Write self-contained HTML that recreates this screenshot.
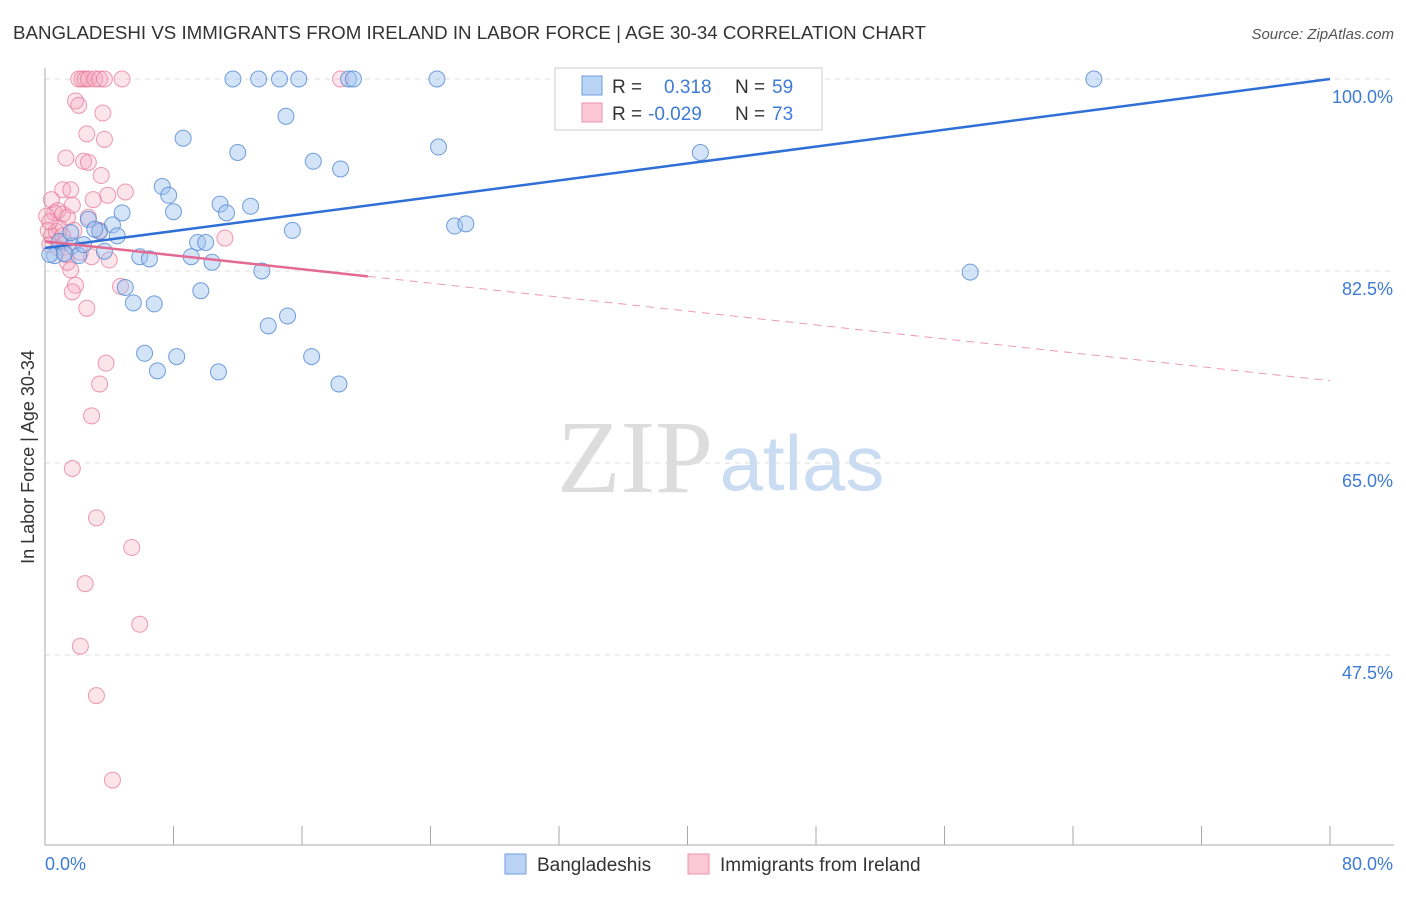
<!DOCTYPE html>
<html><head><meta charset="utf-8"><style>
body{margin:0;background:#fff;font-family:"Liberation Sans",sans-serif;}
</style></head><body>
<svg id="chart" width="1406" height="892" xmlns="http://www.w3.org/2000/svg" font-family="Liberation Sans, sans-serif">
<text x="13" y="39" font-size="18" fill="#333" textLength="913" lengthAdjust="spacingAndGlyphs">BANGLADESHI VS IMMIGRANTS FROM IRELAND IN LABOR FORCE | AGE 30-34 CORRELATION CHART</text>
<text x="1394" y="39" font-size="15" fill="#555" text-anchor="end" font-style="italic">Source: ZipAtlas.com</text>
<text transform="translate(34,457) rotate(-90)" font-size="18" fill="#333" text-anchor="middle">In Labor Force | Age 30-34</text>
<g><text x="635" y="492" font-size="104" fill="#ddd" font-family="Liberation Serif, serif" text-anchor="middle">ZIP</text><text x="802" y="490" font-size="78" fill="#c9dcf2" text-anchor="middle">atlas</text></g>
<g id="grid"></g><g id="axes"></g><g id="pts"></g><g id="lines"></g>
<g>
<rect x="555" y="68" width="267" height="62" fill="#fff" stroke="#ccc"/>
<rect x="582" y="76" width="20" height="19" fill="#b9d3f5" stroke="#6f9ee0"/>
<text x="612" y="93" font-size="19" fill="#333">R =</text><text x="664" y="93" font-size="19" fill="#3d7bd4">0.318</text>
<text x="735" y="93" font-size="19" fill="#333">N =</text><text x="772" y="93" font-size="19" fill="#3d7bd4">59</text>
<rect x="582" y="103" width="20" height="19" fill="#fac8d6" stroke="#ec90ac"/>
<text x="612" y="120" font-size="19" fill="#333">R =</text><text x="648" y="120" font-size="19" fill="#3d7bd4">-0.029</text>
<text x="735" y="120" font-size="19" fill="#333">N =</text><text x="772" y="120" font-size="19" fill="#3d7bd4">73</text>
</g>
<g>
<rect x="505" y="854" width="21" height="20" fill="#b9d3f5" stroke="#6f9ee0"/>
<text x="537" y="871" font-size="19" fill="#333">Bangladeshis</text>
<rect x="688" y="854" width="21" height="20" fill="#fac8d6" stroke="#ec90ac"/>
<text x="720" y="871" font-size="19" fill="#333">Immigrants from Ireland</text>
</g>
</svg>
<script>
const yTicks=[100,82.5,65,47.5];
const yTickLabels=["100.0%","82.5%","65.0%","47.5%"];
const xEndLabels=["0.0%","80.0%"];
const blueX=[11.7,13.3,14.6,15.8,18.9,19.2,24.4,65.3,15.0,8.6,12.0,24.5,16.7,18.4,40.8,7.3,7.7,8.0,10.9,12.8,11.3,4.8,2.7,15.4,25.5,26.2,3.4,4.2,4.5,9.5,10.0,1.7,0.9,0.6,3.7,5.9,6.5,9.1,10.4,13.5,57.6,5.0,5.5,6.8,9.7,15.1,13.9,6.2,8.2,16.6,7.0,10.8,18.3,2.1,0.3,1.6,3.1,2.4,1.2];
const blueY=[100,100,100,100,100,100,100,100,96.6,94.6,93.3,93.8,92.5,91.8,93.3,90.2,89.4,87.9,88.6,88.4,87.8,87.8,87.2,86.2,86.6,86.8,86.1,86.7,85.7,85.1,85.1,84.8,85.2,83.9,84.3,83.8,83.6,83.8,83.3,82.5,82.4,81.0,79.6,79.5,80.7,78.4,77.5,75.0,74.7,74.7,73.4,73.3,72.2,83.9,84.0,86.0,86.3,84.9,84.1];
const pinkX=[2.1,2.3,2.5,2.7,3.1,3.4,3.7,4.8,18.4,1.9,2.1,3.6,2.6,3.7,1.3,2.4,2.7,3.5,1.1,1.6,5.0,3.9,3.0,0.4,0.6,0.8,0.1,1.1,1.4,2.7,1.7,0.9,1.8,3.4,0.4,1.2,0.3,0.8,1.3,2.2,2.9,4.0,11.2,1.4,1.6,1.9,1.7,4.7,2.6,3.8,3.4,2.9,1.7,3.2,5.4,2.5,5.9,2.2,3.2,4.2,0.2,0.7,1.1,0.3];
const pinkY=[100,100,100,100,100,100,100,100,100,98.0,97.6,96.9,95.0,94.5,92.8,92.5,92.4,91.2,89.9,89.9,89.7,89.4,89.0,89.0,87.8,88.0,87.5,87.7,87.4,87.4,88.5,86.4,86.2,86.2,85.7,85.1,84.9,84.6,84.0,84.2,83.8,83.5,85.5,83.3,82.6,81.2,80.6,81.1,79.1,74.1,72.2,69.3,64.5,60.0,57.3,54.0,50.3,48.3,43.8,36.1,86.2,86.1,85.7,87.0];
const blueTrend=[84.6,100];
const pinkTrend=[85.2,72.5];
const pinkSolidEnd=20.1;
const NS="http://www.w3.org/2000/svg";
const X=v=>45+v/80*1285;
const Y=v=>79+(100-v)/17.5*192;
function mk(tag,attrs,parent){const e=document.createElementNS(NS,tag);for(const k in attrs)e.setAttribute(k,attrs[k]);document.getElementById(parent).appendChild(e);return e;}
yTicks.forEach((t,i)=>{
  const g=mk('line',{x1:45,x2:1394,y1:Y(t),y2:Y(t),stroke:'#ddd','stroke-dasharray':'5,5'},'grid');
  
  
  const l=mk('text',{x:1393,y:Y(t)+24,'font-size':18,fill:'#3d7bd4','text-anchor':'end'},'axes');
  l.textContent=yTickLabels[i];
  
  
});
const ax=mk('line',{x1:45,x2:45,y1:68,y2:845,stroke:'#aaa'},'axes');


const bx=mk('line',{x1:45,x2:1394,y1:845,y2:845,stroke:'#aaa'},'axes');


for(let i=1;i<=10;i++){
  const t=mk('line',{x1:X(i*8),x2:X(i*8),y1:826,y2:845,stroke:'#aaa'},'axes');
  
  
}
const xl0=mk('text',{x:45,y:870,'font-size':18,fill:'#3d7bd4'},'axes');xl0.textContent=xEndLabels[0];


const xl1=mk('text',{x:1393,y:870,'font-size':18,fill:'#3d7bd4','text-anchor':'end'},'axes');xl1.textContent=xEndLabels[1];


pinkX.forEach((x,i)=>{
  const c=mk('circle',{cx:X(x),cy:Y(pinkY[i]),r:8,fill:'rgba(245,165,188,0.3)',stroke:'rgba(232,120,155,0.75)','stroke-width':1},'pts');
  
  
});
blueX.forEach((x,i)=>{
  const c=mk('circle',{cx:X(x),cy:Y(blueY[i]),r:8,fill:'rgba(160,195,240,0.45)',stroke:'rgba(80,135,210,0.8)','stroke-width':1},'pts');
  
  
});
const bl=mk('line',{x1:X(0),y1:Y(blueTrend[0]),x2:X(80),y2:Y(blueTrend[1]),stroke:'#2f6fd6','stroke-width':2.5},'lines');


const pAt=x=>pinkTrend[0]+(pinkTrend[1]-pinkTrend[0])*x/80;
const pl=mk('line',{x1:X(0),y1:Y(pinkTrend[0]),x2:X(pinkSolidEnd),y2:Y(pAt(pinkSolidEnd)),stroke:'#e26a93','stroke-width':2.5},'lines');


const pd=mk('line',{x1:X(pinkSolidEnd),y1:Y(pAt(pinkSolidEnd)),x2:X(80),y2:Y(pinkTrend[1]),stroke:'#ee9ab3','stroke-width':1,'stroke-dasharray':'8,6'},'lines');


</script>
</body></html>
